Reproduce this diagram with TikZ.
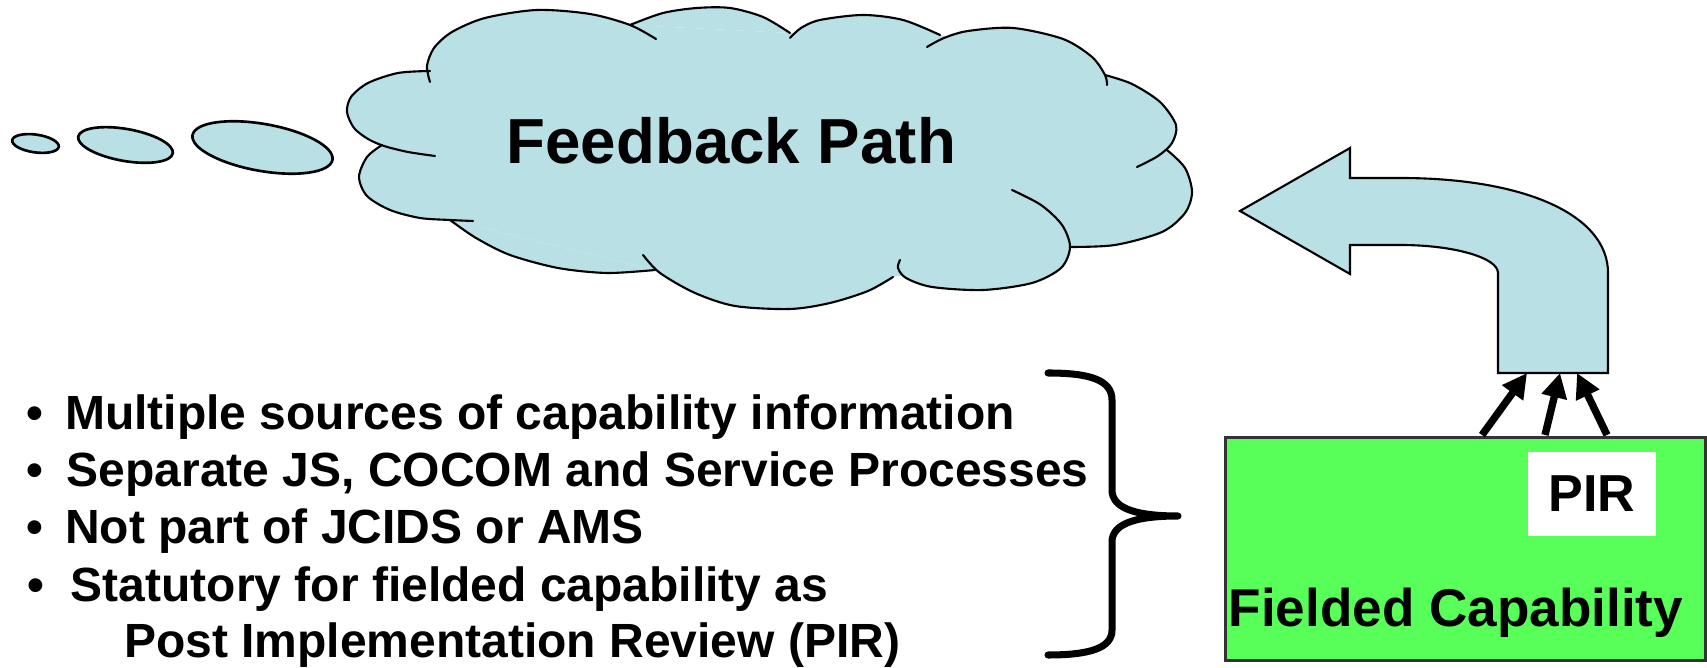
\documentclass[tikz,border=0pt]{standalone}
\usepackage{fontspec}
\setmainfont{Liberation Sans}
\usetikzlibrary{arrows.meta}
\definecolor{cloudblue}{RGB}{185,224,228}
\definecolor{fgreen}{RGB}{88,255,88}
\begin{document}
\begin{tikzpicture}[x=0.01cm,y=-0.01cm,
  cloudline/.style={draw=black, line width=0.6pt, line cap=round, line join=round},
  cloudfill/.style={fill=cloudblue},
  bubble/.style={fill=cloudblue, draw=black, line width=0.75pt},
  bullettext/.style={anchor=base west, inner sep=0pt, font=\fontsize{13.65pt}{16pt}\selectfont\bfseries},
  bulletdot/.style={anchor=base, inner sep=0pt, font=\fontsize{13.65pt}{16pt}\selectfont\bfseries},
  feedarrow/.style={line width=2.1pt, -{Triangle[length=7pt,width=7pt]}},
  boxtext/.style={inner sep=0pt, font=\fontsize{15.1pt}{18pt}\selectfont\bfseries}
]
\useasboundingbox (0,0) rectangle (1707,668);

% thought bubbles
\filldraw[bubble, rotate around={-8:(35.5,143.5)}] (35.5,143.5) ellipse [x radius=0.235cm, y radius=0.089cm];
\filldraw[bubble, rotate around={-10:(125.5,145)}] (125.5,145) ellipse [x radius=0.48cm, y radius=0.16cm];
\filldraw[bubble, rotate around={-10:(262.5,147.5)}] (262.5,147.5) ellipse [x radius=0.71cm, y radius=0.235cm];

% cloud fill
\fill[cloudfill] (382,145) -- (430,71) -- (630,25) -- (790,33) -- (940,35) -- (1105,75) -- (1167,150) -- (1070,247) -- (893,277) -- (655,270) -- (450,220) -- cycle;
\def\lobeA{(430,71) (398,73) (368,83) (351,97) (347,112) (354,128) (368,139) (384,146) (408,152) (435,156)}
\def\lobeB{(430,82) (427,66) (434,48) (452,32) (485,18) (537,10) (590,14) (630,25) (656,39)}
\def\lobeC{(630,25) (663,13) (697,8) (730,8) (763,17) (790,33)}
\def\lobeD{(790,38) (801,28) (820,20) (863,15) (903,20) (940,35)}
\def\lobeE{(927,47) (944,38) (968,31) (1013,28) (1063,39) (1092,57) (1105,75) (1107,85)}
\def\lobeF{(1105,75) (1132,84) (1160,102) (1176,125) (1172,143) (1158,156) (1137,167)}
\def\lobeG{(1167,150) (1185,168) (1192,192) (1185,213) (1162,232) (1115,245) (1070,247)}
\def\lobeH{(1012,190) (1041,205) (1062,225) (1070,247) (1061,268) (1032,283) (983,290) (932,287) (906,278) (898,268) (900,260)}
\def\lobeI{(893,277) (868,291) (830,303) (790,309) (735,306) (695,293) (660,273) (643,255)}
\def\lobeJ{(655,270) (607,273) (558,268) (510,255) (476,238) (450,220)}
\def\lobeK{(382,145) (367,157) (359,177) (367,196) (390,210) (420,218) (450,220) (473,221)}
\foreach \lb in {\lobeA,\lobeB,\lobeC,\lobeD,\lobeE,\lobeF,\lobeG,\lobeH,\lobeI,\lobeJ,\lobeK}{
  \fill[cloudfill] plot[smooth] coordinates \lb -- cycle;
}
\foreach \lb in {\lobeA,\lobeB,\lobeC,\lobeD,\lobeE,\lobeF,\lobeG,\lobeH,\lobeI,\lobeJ,\lobeK}{
  \draw[cloudline] plot[smooth] coordinates \lb;
}
\node[anchor=base west, inner sep=0pt, font=\fontsize{18.1pt}{21pt}\selectfont\bfseries] (fbtext) at (506,164) {Feedback Path};

% bent arrow
\filldraw[fill=cloudblue, draw=black, line width=0.6pt, line join=miter] (1240,211) -- (1350,148) -- (1350,178) -- (1400,178) .. controls (1525,178) and (1608,215) .. (1608,273) -- (1608,373) -- (1498,373) -- (1498,273) .. controls (1498,258) and (1455,245) .. (1400,245) -- (1350,245) -- (1350,274) -- cycle;
\coordinate (t1) at (1527,373);
\coordinate (t2) at (1560,373);
\coordinate (t3) at (1577,373);

% fielded capability box
\node[draw=black!80, line width=0.8pt, fill=fgreen, minimum width=136.6pt, minimum height=63.4pt, inner sep=0pt, anchor=north west] (fc) at (1224,436) {};
\node[fill=white, minimum width=36.4pt, minimum height=23.9pt, inner sep=0pt, font=\fontsize{14.8pt}{17pt}\selectfont\bfseries] (pir) at (1592,494) {PIR};
\node[boxtext, anchor=base west] (fctext) at (1228,627) {Fielded Capability};
\coordinate (s1) at (1482,435);
\coordinate (s2) at (1545,435);
\coordinate (s3) at (1607,435);
\draw[feedarrow] (s1) -- (t1);
\draw[feedarrow] (s2) -- (t2);
\draw[feedarrow] (s3) -- (t3);

% bullet list
\node[bulletdot] (b1) at (35,430) {•};
\node[bulletdot] (b2) at (35,487) {•};
\node[bulletdot] (b3) at (35,544) {•};
\node[bulletdot] (b4) at (36,602) {•};
\node[bullettext] (l1) at (64.5,430) {Multiple sources of capability information};
\node[bullettext] (l2) at (66,487) {Separate JS, COCOM and Service Processes};
\node[bullettext] (l3) at (64.5,544) {Not part of JCIDS or AMS};
\node[bullettext] (l4) at (70,602) {Statutory for fielded capability as};
\node[bullettext] (l5) at (123.5,658) {Post Implementation Review (PIR)};

% brace
\draw[line width=2pt, line cap=round, line join=round] (1048,373) .. controls (1090,373) and (1112,380) .. (1112,400) -- (1112,490) .. controls (1112,506) and (1130,516) .. (1178,516) .. controls (1130,516) and (1112,526) .. (1112,542) -- (1112,630) .. controls (1112,648) and (1090,655) .. (1048,655);
\end{tikzpicture}
\end{document}
